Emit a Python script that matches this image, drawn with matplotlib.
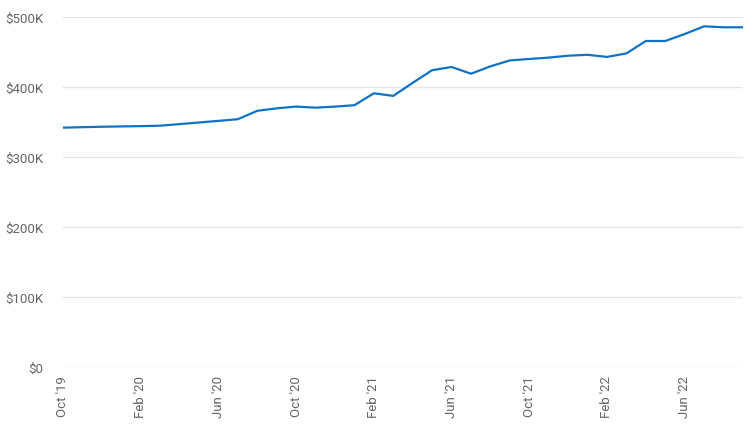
import matplotlib
matplotlib.use("Agg")
import numpy as np
import matplotlib.pyplot as plt
from matplotlib.ticker import FuncFormatter, MultipleLocator

# monthly values, Oct '19 .. Sep '22 (in $K)
months = ["Oct '19", "Nov '19", "Dec '19", "Jan '20", "Feb '20", "Mar '20", "Apr '20", "May '20",
          "Jun '20", "Jul '20", "Aug '20", "Sep '20", "Oct '20", "Nov '20", "Dec '20", "Jan '21",
          "Feb '21", "Mar '21", "Apr '21", "May '21", "Jun '21", "Jul '21", "Aug '21", "Sep '21",
          "Oct '21", "Nov '21", "Dec '21", "Jan '22", "Feb '22", "Mar '22", "Apr '22", "May '22",
          "Jun '22", "Jul '22", "Aug '22", "Sep '22"]
values_k = [341.9, 342.6, 343.2, 343.7, 344.1, 344.7, 347.0, 349.3, 351.6, 354.0, 366.0, 369.5,
            372.0, 370.5, 372.0, 374.0, 391.0, 387.3, 406.0, 424.0, 428.6, 419.0, 429.5, 438.0,
            440.0, 442.0, 444.7, 446.0, 443.0, 448.0, 465.7, 465.7, 475.7, 486.7, 485.3, 485.3]

tick_every = 4

plt.rcParams['font.family'] = ['Roboto', 'DejaVu Sans']

fig = plt.figure(figsize=(7.54, 4.31), dpi=100)
ax = fig.add_axes([63 / 754, 63 / 431, (743 - 63) / 754, (368 - 18) / 431])

x = np.arange(len(months))
ax.plot(x, np.array(values_k) * 1000, color='#0f72c4', linewidth=1.6, solid_joinstyle='round')

ax.set_xlim(0, len(months) - 1)
ax.set_ylim(0, 500000)
ax.yaxis.set_major_locator(MultipleLocator(100000))
ax.yaxis.set_major_formatter(FuncFormatter(lambda v, p: '$0' if v == 0 else f'${int(v / 1000)}K'))
ax.set_xticks(x[::tick_every])
ax.set_xticklabels(months[::tick_every], rotation=90)

ax.grid(axis='y', color='#e6e6e6', linewidth=1)
ax.set_axisbelow(True)
for s in ax.spines.values():
    s.set_visible(False)
ax.tick_params(axis='both', length=0, labelsize=9.5, colors='#666666')
ax.tick_params(axis='y', pad=14)
ax.tick_params(axis='x', pad=6)

fig.savefig('out.png', dpi=100)
